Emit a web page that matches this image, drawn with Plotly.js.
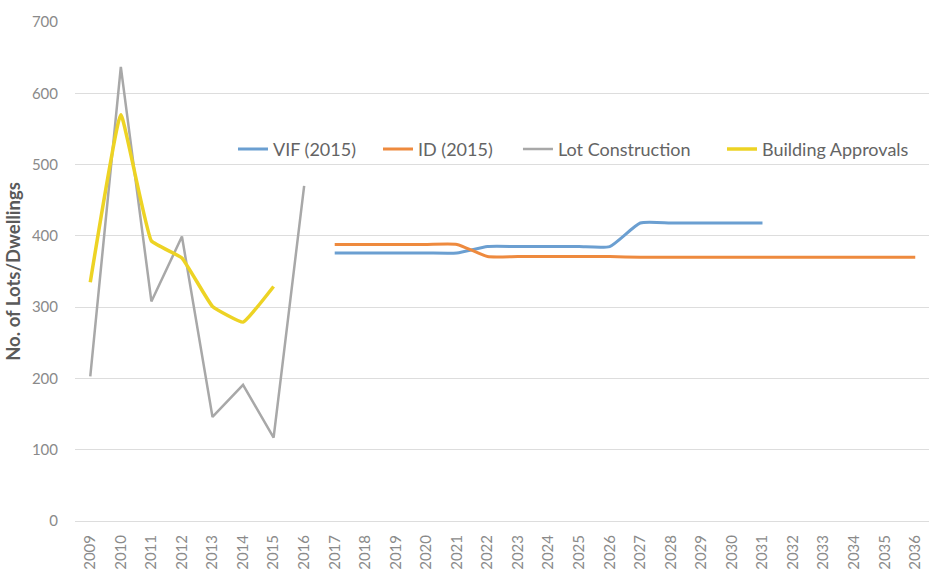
<!DOCTYPE html>
<html>
<head>
<meta charset="utf-8">
<script src="https://cdn.plot.ly/plotly-3.0.1.min.js"></script>
<style>html,body{margin:0;padding:0;background:#fff;overflow:hidden}</style>
</head>
<body>
<div id="chart" style="width:929px;height:570px"></div>
<script>
const years = ["2009","2010","2011","2012","2013","2014","2015","2016","2017","2018","2019","2020","2021","2022","2023","2024","2025","2026","2027","2028","2029","2030","2031","2032","2033","2034","2035","2036"];

const vifYears = ["2017","2018","2019","2020","2021","2022","2023","2024","2025","2026","2027","2028","2029","2030","2031"];
const vifValues = [376,376,376,376,376,385,385,385,385,385,418,418,418,418,418];

const idYears = ["2017","2018","2019","2020","2021","2022","2023","2024","2025","2026","2027","2028","2029","2030","2031","2032","2033","2034","2035","2036"];
const idValues = [388,388,388,388,388,371,371,371,371,371,370,370,370,370,370,370,370,370,370,370];

const lotYears = ["2009","2010","2011","2012","2013","2014","2015","2016"];
const lotValues = [203,637,308,399,146,191,117,470];

const baYears = ["2009","2010","2011","2012","2013","2014","2015"];
const baValues = [335,570,393,369,301,279,329];

const yTicks = [0,100,200,300,400,500,600,700];

const traces = [
  {name:"VIF (2015)", x:vifYears, y:vifValues, type:"scatter", mode:"lines", legend:"legend",
   line:{color:"#6B9FD1", width:3, shape:"spline", smoothing:0.5}},
  {name:"ID (2015)", x:idYears, y:idValues, type:"scatter", mode:"lines", legend:"legend2",
   line:{color:"#EE8A3E", width:3, shape:"spline", smoothing:0.5}},
  {name:"Lot Construction", x:lotYears, y:lotValues, type:"scatter", mode:"lines", legend:"legend3",
   line:{color:"#A8A8A8", width:2.5}},
  {name:"Building Approvals", x:baYears, y:baValues, type:"scatter", mode:"lines", legend:"legend4",
   line:{color:"#EDD324", width:3.5, shape:"spline", smoothing:0.3}}
];

const legFont = {size:18, color:"#646464"};
function leg(x){
  return {orientation:"h", x:x, y:0.745, xanchor:"left", yanchor:"middle",
    font:legFont, bgcolor:"rgba(0,0,0,0)", itemwidth:30};
}

const layout = {
  width:929, height:570,
  margin:{l:75, r:0, t:22, b:49},
  paper_bgcolor:"#ffffff", plot_bgcolor:"#ffffff",
  font:{family:"Lato, 'Open Sans', sans-serif", color:"#8a8a8a", size:15},
  showlegend:true,
  legend:leg(0.1850),
  legend2:leg(0.3548),
  legend3:leg(0.5187),
  legend4:leg(0.7576),
  xaxis:{type:"category", categoryorder:"array", categoryarray:years,
    tickmode:"array", tickvals:years, ticktext:years,
    range:[-0.5, 27.45], tickangle:-90, showgrid:false, zeroline:false, showline:false,
    ticks:"", ticklabelstandoff:10, tickfont:{size:15, color:"#8a8a8a"}, fixedrange:true},
  yaxis:{range:[0,700], tickmode:"array", tickvals:yTicks, ticktext:yTicks.map(String),
    showgrid:true, gridcolor:"#DDDDDD", gridwidth:1, zeroline:true, zerolinecolor:"#DDDDDD",
    showline:false, ticks:"", ticklabelstandoff:16, tickfont:{size:15, color:"#8a8a8a"},
    title:{text:"<b>No. of Lots/Dwellings</b>", font:{size:18.5, color:"#5a5a5a"}, standoff:6},
    automargin:false, fixedrange:true}
};

Plotly.newPlot("chart", traces, layout, {displayModeBar:false, staticPlot:true});
</script>
</body>
</html>
